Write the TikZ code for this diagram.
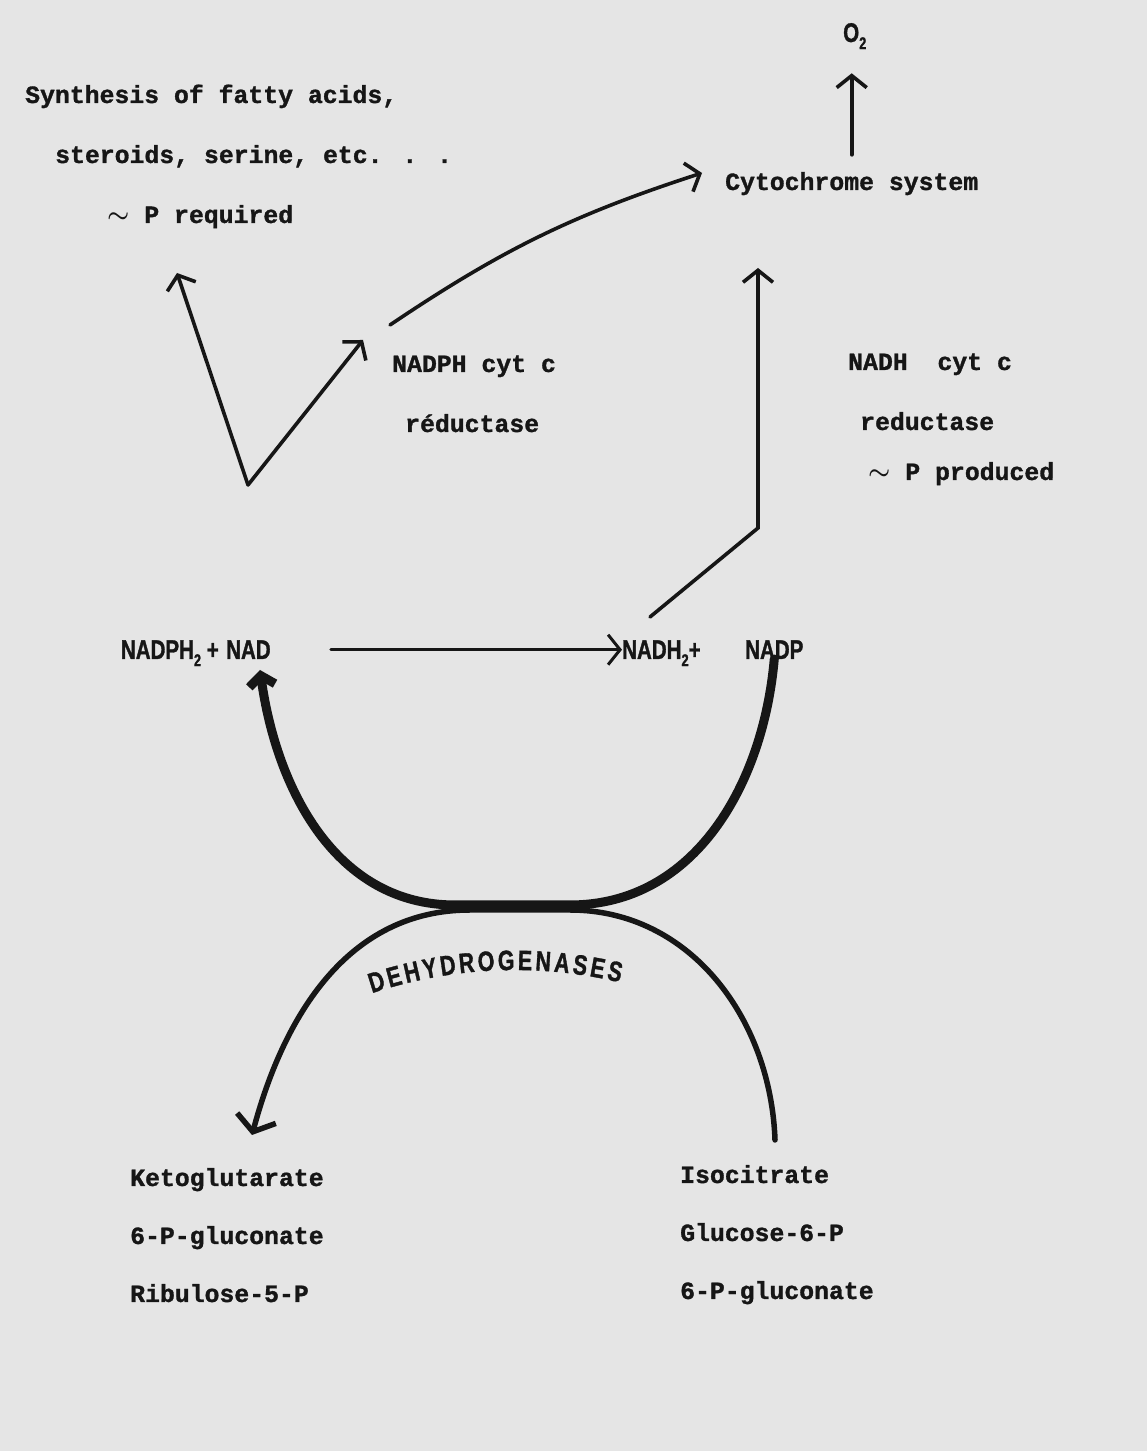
\documentclass[tikz,border=0pt]{standalone}
\usepackage{amsmath}
\usepackage{fontspec}
\usetikzlibrary{positioning,arrows.meta,decorations.text}

\newfontfamily\typew{Liberation Mono}[BoldFeatures={FakeBold=1.2}]
\newfontfamily\lettr{Liberation Sans}[FakeStretch=0.76, BoldFeatures={FakeBold=1.2}]
\newcommand{\subtwo}{\raisebox{-.5ex}{\fontsize{17}{17}\selectfont 2}}
\newcommand{\squig}{$\boldsymbol{\sim}$}

\definecolor{paper}{RGB}{229,229,229}
\definecolor{ink}{RGB}{22,22,22}

\tikzset{
  txt/.style={inner sep=0pt, anchor=base west, text=ink,
    font=\typew\bfseries\fontsize{24.8}{26}\selectfont},
  chem/.style={inner sep=0pt, anchor=base west, text=ink,
    font=\lettr\bfseries\fontsize{27}{28}\selectfont},
  arr/.style={draw=ink, line width=3.6pt, line cap=round,
    -{Straight Barb[length=12pt,width=30pt]}},
}

\begin{document}
\begin{tikzpicture}[x=1pt, y=1pt, node distance=58pt]

\fill[paper] (0,0) rectangle (1147,1451);
\useasboundingbox (0,0) rectangle (1147,1451);

\node (synth) [txt] at (25,1348) {Synthesis of fatty acids,};
\node (ster) [txt] at (55,1288) {steroids, serine, etc. . .};
\node (preq) [txt] at (107,1228) {\squig\ P required};

\node (o2) [chem] at (843,1409) {O\subtwo};
\node (cyto) [txt] at (725,1261) {Cytochrome system};

\node (reda) [txt] at (392,1079) {NADPH cyt c};
\node (reda2) [txt] at (405,1019) {réductase};
\node (redb) [txt] at (848,1081) {NADH\ \ cyt c};
\node (redb2) [txt] at (860,1021) {reductase};
\node (redb3) [txt] at (868,971) {\squig\ P produced};

\node (nad) [chem] at (226,792) {NAD};
\node (nadph) [chem, left=7pt of nad.base west, anchor=base east] {NADPH\subtwo\ +};
\node (nadh) [chem] at (622,792) {NADH\subtwo +};
\node (nadp) [chem] at (745,792) {NADP};

\node (keto) [txt] at (130,265) {Ketoglutarate};
\node (pglu) [txt, below=of keto.base west, anchor=base west] {6-P-gluconate};
\node (ribu) [txt, below=of pglu.base west, anchor=base west] {Ribulose-5-P};
\node (iso) [txt] at (680,268) {Isocitrate};
\node (gluc) [txt, below=of iso.base west, anchor=base west] {Glucose-6-P};
\node (pglub) [txt, below=of gluc.base west, anchor=base west] {6-P-gluconate};

% free ends and bends
\coordinate (vtx) at (248,966);
\coordinate (preqin) at (177,1178);
\coordinate (redain) at (363,1111);
\coordinate (redaout) at (390,1126);
\coordinate (cytoin) at (702,1278);
\coordinate (nadhout) at (650,834);
\coordinate (kink) at (758,923);
\coordinate (cytoup) at (758,1183);
\coordinate (nadin) at (260,781);
\coordinate (meetr) at (570,546);
\coordinate (meetl) at (455,546);
\coordinate (isoout) at (775,311);
\coordinate (lowr) at (570,541);
\coordinate (lowl) at (470,541);
\coordinate (ketoin) at (252,316);

\draw[arr] (vtx) -- (preqin);
\draw[arr] (vtx) -- (redain);
\draw[arr] (redaout) to[bend left=8] (cytoin);
\draw[arr, shorten <=17pt, shorten >=24pt] (cyto.north) -- (cyto.north |- o2.south);
\draw[arr] (nadhout) -- (kink) -- (cytoup);
\draw[arr, line width=3pt, shorten <=60pt] (nad.east) -- (nad.east -| nadh.west);

\draw[ink, line width=9pt, line cap=round, -{Straight Barb[length=10pt,width=26pt]}]
  (nadp.base) to[out=-95,in=0] (meetr) -- (meetl) to[out=180,in=-82] (nadin);
\draw[ink, line width=5.5pt, line cap=round, -{Straight Barb[length=14pt,width=40pt]}]
  (isoout) to[out=92,in=0] (lowr) -- (lowl) to[out=180,in=75] (ketoin);

\path[decorate, decoration={text along path, text align={fit to path},
  text={|\lettr\bfseries\fontsize{28}{28}\selectfont\color{ink}|DEHYDROGENASES}}]
  (515,28) ++(108.4:453) arc[start angle=108.4, end angle=76.6, radius=453];

\end{tikzpicture}
\end{document}
